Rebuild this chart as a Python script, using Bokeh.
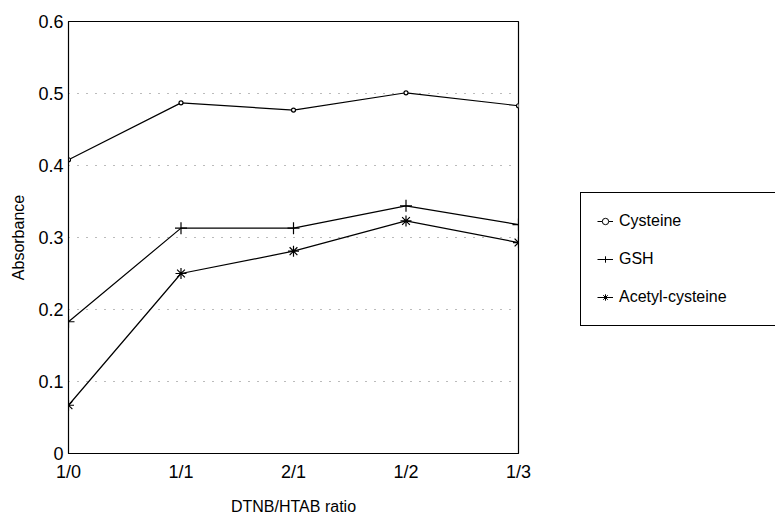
from bokeh.plotting import figure
from bokeh.models import Range1d, FixedTicker, Legend, LegendItem
from bokeh.layouts import row
from bokeh.embed import file_html
from bokeh.resources import INLINE

categories = ["1/0", "1/1", "2/1", "1/2", "1/3"]
cysteine = [0.408, 0.487, 0.477, 0.501, 0.483]
gsh = [0.183, 0.313, 0.313, 0.344, 0.318]
acetyl = [0.067, 0.250, 0.281, 0.323, 0.293]
y_ticks = [0, 0.1, 0.2, 0.3, 0.4, 0.5, 0.6]
y_tick_labels = ["0", "0.1", "0.2", "0.3", "0.4", "0.5", "0.6"]
series_names = ["Cysteine", "GSH", "Acetyl-cysteine"]

FONT = "Liberation Sans"
xs = list(range(len(categories)))

p = figure(width=540, height=525, output_backend="svg", toolbar_location=None,
           x_range=Range1d(0, len(categories) - 1), y_range=Range1d(0, 0.6),
           min_border_left=68, min_border_right=22, min_border_top=21, min_border_bottom=72)
p.background_fill_color = "white"
p.border_fill_color = "white"
p.outline_line_color = "black"
p.outline_line_width = 1.2

p.xaxis.ticker = FixedTicker(ticks=xs)
p.xaxis.major_label_overrides = {i: c for i, c in enumerate(categories)}
p.yaxis.ticker = FixedTicker(ticks=y_ticks)
p.yaxis.major_label_overrides = {t: l for t, l in zip(y_ticks, y_tick_labels)}

for ax in (p.xaxis[0], p.yaxis[0]):
    ax.axis_line_color = "black"
    ax.major_tick_line_color = None
    ax.minor_tick_line_color = None
    ax.major_tick_out = 0
    ax.major_tick_in = 0
    ax.major_label_text_font = FONT
    ax.major_label_text_font_size = "18px"
    ax.major_label_text_color = "black"
    ax.axis_label_text_font = FONT
    ax.axis_label_text_font_size = "16px"
    ax.axis_label_text_font_style = "normal"
    ax.axis_label_text_color = "black"

p.xaxis.axis_label = "DTNB/HTAB ratio"
p.yaxis.axis_label = "Absorbance"
p.xaxis.major_label_standoff = 8
p.xaxis.axis_label_standoff = 13
p.yaxis.major_label_standoff = 5
p.yaxis.axis_label_standoff = 8

p.xgrid.grid_line_color = None
p.ygrid.grid_line_color = "#777777"
p.ygrid.grid_line_dash = "1 8"
p.ygrid.grid_line_width = 1

styles = [
    dict(marker="circle", size=4, fill_color="white"),
    dict(marker="cross", size=12, fill_color=None),
    dict(marker="asterisk", size=11, fill_color=None),
]

for ys, st in zip([cysteine, gsh, acetyl], styles):
    p.line(xs, ys, line_color="black", line_width=1.2)
    p.scatter(xs, ys, line_color="black", line_width=1.2, **st)

# Legend panel to the right (glyph proxies sit outside the visible range)
p2 = figure(width=235, height=525, output_backend="svg", toolbar_location=None,
            x_range=Range1d(0, 1), y_range=Range1d(0, 1),
            min_border_left=0, min_border_right=0, min_border_top=0, min_border_bottom=0)
p2.axis.visible = False
p2.grid.grid_line_color = None
p2.outline_line_color = None
p2.background_fill_color = "white"
p2.border_fill_color = "white"

items = []
for name, st in zip(series_names, styles):
    lr = p2.line([-5, -4], [-5, -4], line_color="black", line_width=1)
    sr = p2.scatter([-5], [-5], line_color="black", line_width=1, **st)
    items.append(LegendItem(label=name, renderers=[lr, sr]))

legend = Legend(items=items, location=(40, 127))
legend.label_text_font = FONT
legend.label_text_font_size = "16px"
legend.label_text_color = "black"
legend.border_line_color = "black"
legend.border_line_alpha = 1
legend.border_line_width = 1
legend.glyph_width = 16
legend.glyph_height = 24
legend.label_height = 24
legend.label_width = 146
legend.spacing = 14
legend.padding = 16
legend.margin = 0
legend.label_standoff = 6
legend.background_fill_alpha = 1
p2.add_layout(legend, "center")

layout = row(p, p2, spacing=0)
open("out.html", "w").write(file_html(layout, INLINE))
